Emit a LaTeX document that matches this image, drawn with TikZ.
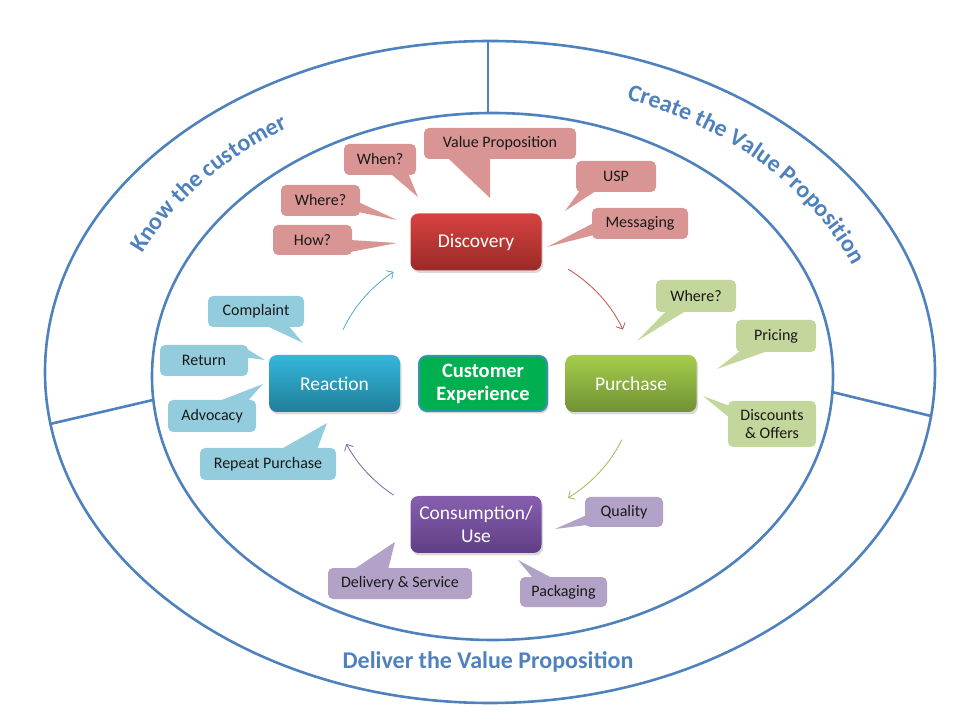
\documentclass[tikz,border=0pt]{standalone}
\usepackage{fontspec}
\setmainfont{Carlito}
\usepackage{tikz}
\usetikzlibrary{arrows.meta,shadows,decorations.text,calc}
\definecolor{ringblue}{RGB}{79,129,189}
\definecolor{rfill}{RGB}{217,149,148}
\definecolor{gfill}{RGB}{195,214,155}
\definecolor{bfill}{RGB}{147,205,221}
\definecolor{pfill}{RGB}{179,162,199}
\definecolor{rtop}{RGB}{214,66,63}
\definecolor{rbot}{RGB}{155,42,40}
\definecolor{gtop}{RGB}{165,204,75}
\definecolor{gbot}{RGB}{112,146,52}
\definecolor{btop}{RGB}{52,183,219}
\definecolor{bbot}{RGB}{33,126,155}
\definecolor{ptop}{RGB}{135,95,175}
\definecolor{pbot}{RGB}{96,62,132}
\definecolor{cxgreen}{RGB}{0,176,80}
\definecolor{cxedge}{RGB}{49,150,170}
\definecolor{cycblue}{RGB}{75,172,198}
\definecolor{cycred}{RGB}{192,80,77}
\definecolor{cycgreen}{RGB}{155,187,89}
\definecolor{cycpurple}{RGB}{128,100,162}
\newcommand{\stagefont}{\fontsize{19.5}{23}\selectfont}
\newcommand{\callfont}{\fontsize{16}{18}\selectfont}
\newcommand{\ringfont}{\fontsize{24}{28}\selectfont\bfseries}
\tikzset{
  ring/.style={draw=ringblue, line width=2.6pt},
  ringtext/.style={text=ringblue, font=\ringfont},
  stage/.style={rounded corners=8pt, minimum width=131pt, minimum height=57pt, align=center,
    text=white, font=\stagefont, drop shadow={shadow xshift=1.5pt, shadow yshift=-2.5pt, opacity=0.3}},
  redstage/.style={stage, top color=rtop, bottom color=rbot},
  greenstage/.style={stage, top color=gtop, bottom color=gbot},
  bluestage/.style={stage, top color=btop, bottom color=bbot},
  purplestage/.style={stage, top color=ptop, bottom color=pbot},
  call/.style={rounded corners=5pt, minimum height=31pt, inner sep=2pt, align=center,
    font=\callfont, text=black!90},
  rcall/.style={call, fill=rfill},
  gcall/.style={call, fill=gfill},
  bcall/.style={call, fill=bfill},
  pcall/.style={call, fill=pfill},
  cyc/.style={line width=0.8pt, -{Straight Barb[length=5pt,width=10pt]}}
}

\begin{document}
\begin{tikzpicture}[x=1pt, y=1pt]
  \useasboundingbox (0,0) rectangle (960,720);

  % rings
  \coordinate (oc) at (490,348);
  \coordinate (ic) at (492.5,343.5);
  \coordinate (tc) at (491,346);
  \draw[ring] (oc) ellipse[x radius=445, y radius=331];
  \draw[ring] (ic) ellipse[x radius=340.5, y radius=263.5];
  \coordinate (topo) at (488,679);
  \coordinate (topi) at (488,607);
  \coordinate (lefto) at (50,296);
  \coordinate (lefti) at (153,320);
  \coordinate (righto) at (931,304);
  \coordinate (righti) at (832,328);
  \draw[ring] (topo) -- (topi);
  \draw[ring] (lefto) -- (lefti);
  \draw[ring] (righto) -- (righti);

  \path[decorate, decoration={text along path, text={|\ringfont|Know the customer},
      text align=center, text color=ringblue}]
    (tc) ++(178:383 and 290) arc[start angle=178, end angle=104, x radius=383, y radius=290];
  \path[decorate, decoration={text along path, text={|\ringfont|Create the Value Proposition},
      text align=center, text color=ringblue}]
    (tc) ++(85:389 and 293) arc[start angle=85, end angle=2, x radius=389, y radius=293];
  \node[ringtext] (deliver) at (488,58) {Deliver the Value Proposition};

  % discovery callouts
  \node[rcall, minimum width=72pt] (when) at (380,560.5) {When?};
  \node[rcall, minimum width=152pt] (vprop) at (500,576.5) {Value Proposition};
  \node[rcall, minimum width=80pt] (usp) at (616,543.5) {USP};
  \node[rcall, minimum width=79pt] (rwhere) at (320.5,519.5) {Where?};
  \node[rcall, minimum width=96pt] (msg) at (640,496.5) {Messaging};
  \node[rcall, minimum width=79pt, minimum height=30pt] (how) at (312.5,480) {How?};
  \coordinate (when-tip) at (418,523);
  \coordinate (vprop-tip) at (490,522);
  \coordinate (usp-tip) at (565,509);
  \coordinate (rwhere-tip) at (397,500);
  \coordinate (msg-tip) at (547,473);
  \coordinate (how-tip) at (397,477);
  \fill[rfill] ([shift={(10,2)}]when.south) -- (when-tip) -- ([shift={(28,2)}]when.south) -- cycle;
  \fill[rfill] ([shift={(-53,2)}]vprop.south) -- (vprop-tip) -- ([shift={(-10,2)}]vprop.south) -- cycle;
  \fill[rfill] ([shift={(-36,2)}]usp.south) -- (usp-tip) -- ([shift={(-19,2)}]usp.south) -- cycle;
  \fill[rfill] ([shift={(-2,-1.5)}]rwhere.east) -- (rwhere-tip) -- ([shift={(-2,-11.5)}]rwhere.east) -- cycle;
  \fill[rfill] ([shift={(2,0.5)}]msg.west) -- (msg-tip) -- ([shift={(2,-11.5)}]msg.west) -- cycle;
  \fill[rfill] ([shift={(-2,0)}]how.east) -- (how-tip) -- ([shift={(-2,-12)}]how.east) -- cycle;

  % reaction callouts
  \node[bcall, minimum width=96pt] (complaint) at (256,408.5) {Complaint};
  \node[bcall, minimum width=88pt] (ret) at (204,359.5) {Return};
  \node[bcall, minimum width=88pt, minimum height=32pt] (advocacy) at (212,304) {Advocacy};
  \node[bcall, minimum width=136pt, minimum height=32pt] (repeat) at (268,256) {Repeat Purchase};
  \coordinate (complaint-tip) at (303,377);
  \coordinate (ret-tip) at (265,360);
  \coordinate (advocacy-tip) at (263,336);
  \coordinate (repeat-tip) at (327,297);
  \fill[bfill] ([shift={(9,2)}]complaint.south) -- (complaint-tip) -- ([shift={(32,2)}]complaint.south) -- cycle;
  \fill[bfill] ([shift={(-2,12)}]ret.east) -- (ret-tip) -- ([shift={(-2,3)}]ret.east) -- cycle;
  \fill[bfill] ([shift={(5,-2)}]advocacy.north) -- (advocacy-tip) -- ([shift={(35,-2)}]advocacy.north) -- cycle;
  \fill[bfill] ([shift={(12,-2)}]repeat.north) -- (repeat-tip) -- ([shift={(49,-2)}]repeat.north) -- cycle;

  % purchase callouts
  \node[gcall, minimum width=80pt, minimum height=32pt] (gwhere) at (696,424) {Where?};
  \node[gcall, minimum width=80pt, minimum height=32pt] (pricing) at (776,384) {Pricing};
  \node[gcall, minimum width=88pt, minimum height=46pt] (discounts) at (772,296) {Discounts\\\& Offers};
  \coordinate (gwhere-tip) at (637,379);
  \coordinate (pricing-tip) at (717,351);
  \coordinate (discounts-tip) at (703,324);
  \fill[gfill] ([shift={(-29,2)}]gwhere.south) -- (gwhere-tip) -- ([shift={(-9,2)}]gwhere.south) -- cycle;
  \fill[gfill] ([shift={(-35,2)}]pricing.south) -- (pricing-tip) -- ([shift={(-6,2)}]pricing.south) -- cycle;
  \fill[gfill] ([shift={(2,18)}]discounts.west) -- (discounts-tip) -- ([shift={(2,6)}]discounts.west) -- cycle;

  % consumption callouts
  \node[pcall, minimum width=78pt, minimum height=30pt] (quality) at (624,208) {Quality};
  \node[pcall, minimum width=144pt] (delivery) at (400,136.5) {Delivery \& Service};
  \node[pcall, minimum width=87pt, minimum height=30pt] (packaging) at (563.5,128) {Packaging};
  \coordinate (quality-tip) at (555,191);
  \coordinate (delivery-tip) at (395,178);
  \coordinate (packaging-tip) at (518,160);
  \fill[pfill] ([shift={(2,-3)}]quality.west) -- (quality-tip) -- ([shift={(2,-13)}]quality.west) -- cycle;
  \fill[pfill] ([shift={(-47,-2)}]delivery.north) -- (delivery-tip) -- ([shift={(-12,-2)}]delivery.north) -- cycle;
  \fill[pfill] ([shift={(-30,-2)}]packaging.north) -- (packaging-tip) -- ([shift={(-10,-2)}]packaging.north) -- cycle;

  % stages
  \node[redstage] (disc) at (476,478) {Discovery};
  \node[greenstage] (purch) at (631,336.5) {Purchase};
  \node[bluestage] (react) at (334.5,336.5) {Reaction};
  \node[purplestage] (consum) at (476,195.5) {Consumption/\\Use};
  \node[stage, fill=cxgreen, draw=cxedge, line width=2pt, minimum width=128pt, minimum height=55pt,
    font=\fontsize{20.5}{23}\selectfont\bfseries] (cexp) at (483,336.5) {Customer\\Experience};

  % cycle arrows round the centre
  \draw[cyc, cycblue] ([shift={(157:152 and 138)}]cexp.center) arc[start angle=157, end angle=126, x radius=152, y radius=138];
  \draw[cyc, cycred] ([shift={(56:152 and 138)}]cexp.center) arc[start angle=56, end angle=23, x radius=152, y radius=138];
  \draw[cyc, cycgreen] ([shift={(-24:152 and 138)}]cexp.center) arc[start angle=-24, end angle=-56, x radius=152, y radius=138];
  \draw[cyc, cycpurple] ([shift={(234:152 and 138)}]cexp.center) arc[start angle=234, end angle=206, x radius=152, y radius=138];
\end{tikzpicture}
\end{document}
